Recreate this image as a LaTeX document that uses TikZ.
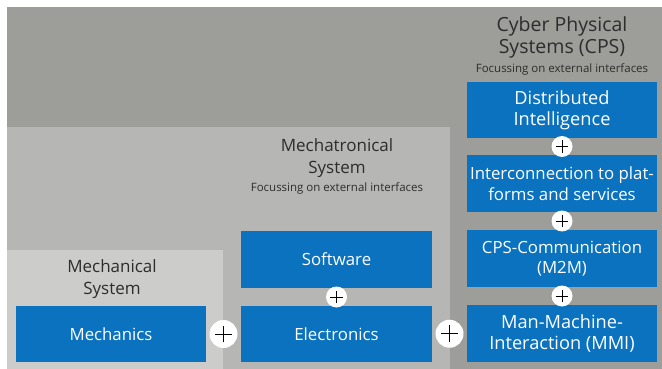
\documentclass[tikz,border=0pt]{standalone}
\usepackage{fontspec}
\setmainfont{Open Sans}
\usetikzlibrary{calc}
\definecolor{bgdark}{RGB}{157,157,153}
\definecolor{bgmid}{RGB}{182,182,180}
\definecolor{bglight}{RGB}{204,204,202}
\definecolor{boxblue}{RGB}{10,114,190}
\definecolor{txt}{RGB}{45,45,45}
\begin{document}
\begin{tikzpicture}[x=1pt,y=-1pt,
  bluebox/.style={fill=boxblue, text=white, minimum width=190pt, minimum height=56pt,
    align=center, inner sep=0pt, font=\fontsize{16.8}{20.5}\selectfont},
  bigtext/.style={font=\fontsize{18.2}{21}\selectfont},
  title/.style={text=txt, align=center, inner sep=0pt, font=\fontsize{17}{21.5}\selectfont},
  bigtitle/.style={font=\fontsize{19.5}{22.5}\selectfont},
  subtitle/.style={text=txt, inner sep=0pt, font=\fontsize{11.5}{13}\selectfont},
  plusmark/.style={circle, fill=white, inner sep=0pt, minimum size=#1,
    path picture={
      \draw[line width=1pt, black]
        ($(path picture bounding box.center)+(-0.3*#1,0)$) -- ($(path picture bounding box.center)+(0.3*#1,0)$)
        ($(path picture bounding box.center)+(0,-0.3*#1)$) -- ($(path picture bounding box.center)+(0,0.3*#1)$);
    }},
  bigplus/.style={plusmark=28pt},
  smallplus/.style={plusmark=21pt}
]
\useasboundingbox[fill=white] (0,0) rectangle (662,369);
% regions
\fill[bgdark] (7,7) rectangle (662,369);
\fill[bgmid] (7,127) rectangle (450,369);
\fill[bglight] (7,250) rectangle (223,369);

% titles
\node[title, bigtitle] (tcps) at (562,37.5) {Cyber Physical\\Systems (CPS)};
\node[subtitle] (scps) at (562,69.5) {Focussing on external interfaces};
\node[title] (tmec) at (337,158) {Mechatronical\\System};
\node[subtitle] (smec) at (337,188.5) {Focussing on external interfaces};
\node[title] (tmech) at (112,279) {Mechanical\\System};

% boxes
\node[bluebox] (mech) at (111,334) {Mechanics};
\node[bluebox, minimum width=191pt] (elec) at (336.5,334) {Electronics};
\node[bluebox, minimum width=191pt, minimum height=57pt] (soft) at (336.5,259.5) {Software};
\node[bluebox, bigtext, minimum height=57pt] (mmi) at (562,333.5) {Man-Machine-\\Interaction (MMI)};
\node[bluebox, minimum height=57pt] (m2m) at (562,258.5) {CPS-Communication\\(M2M)};
\node[bluebox, minimum height=57pt] (inter) at (562,183.5) {Interconnection to plat-\\forms and services};
\node[bluebox, bigtext] (dist) at (562,110) {Distributed\\Intelligence};

% pluses
\node[bigplus] (p1) at ($(mech.east)!0.5!(elec.west)$) {};
\node[bigplus] (p2) at ($(elec.east)!0.5!(mmi.west)$) {};
\node[smallplus] (p3) at ($(soft.south)!0.5!(elec.north)$) {};
\node[smallplus] (p4) at ($(dist.south)!0.5!(inter.north)$) {};
\node[smallplus] (p5) at ($(inter.south)!0.5!(m2m.north)$) {};
\node[smallplus] (p6) at ($(m2m.south)!0.5!(mmi.north)$) {};
\end{tikzpicture}
\end{document}
